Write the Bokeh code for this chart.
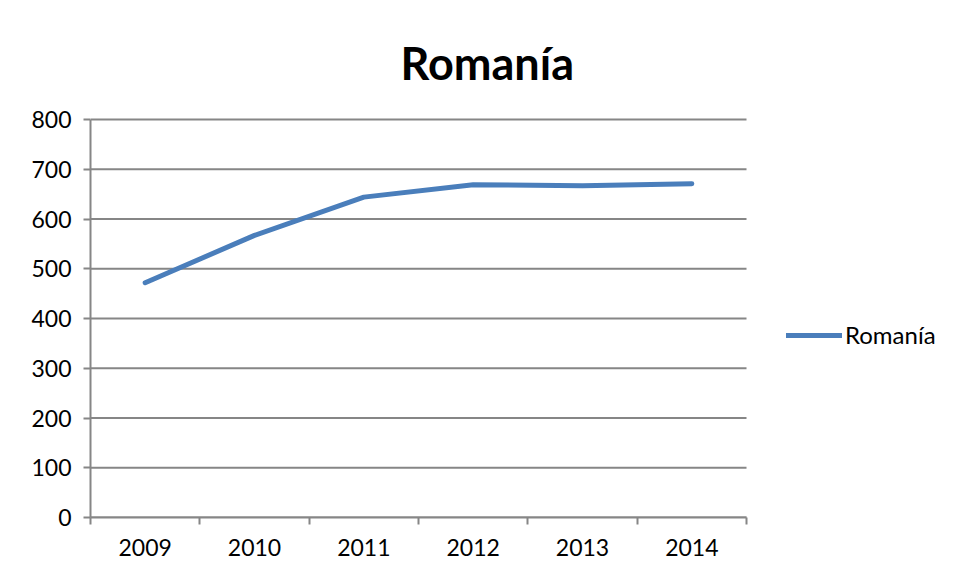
from bokeh.plotting import figure
from bokeh.models import (ColumnDataSource, FixedTicker, Range1d, Legend, LegendItem)
from bokeh.embed import file_html
from bokeh.resources import INLINE

years = ["2009", "2010", "2011", "2012", "2013", "2014"]
values = [472, 567, 644, 669, 667, 671]
series_name = "Romanía"
title_text = "Romanía"
y_ticks = [0, 100, 200, 300, 400, 500, 600, 700, 800]

n = len(years)
xpos = [i + 0.5 for i in range(n)]
src = ColumnDataSource(dict(x=xpos, y=values, year=years))
grid_src = ColumnDataSource(dict(x0=[0] * len(y_ticks), x1=[n] * len(y_ticks), y=y_ticks))

FONT = "Lato"
GRID = "#868686"

W, H = 946, 570
LEFT, TOP, BOTTOM = 90, 117, 53
AXIS_W = 656  # pixel width of the category axis
frame_w = W - LEFT
x_end = n * frame_w / AXIS_W  # extend frame to the right so the legend sits inside it
y_max = y_ticks[-1]
y_pad = 2 * y_max / 398.0  # 2px headroom so the top gridline is not clipped

p = figure(width=W, height=H, output_backend="svg", toolbar_location=None,
           x_range=Range1d(0, x_end), y_range=Range1d(0, y_max + y_pad),
           min_border_left=LEFT, min_border_right=0, min_border_top=TOP, min_border_bottom=BOTTOM)
p.outline_line_color = None

p.title.text = title_text
p.title.text_font = FONT
p.title.text_font_style = "bold"
p.title.text_font_size = "45px"
p.title.align = "left"
p.title.offset = 310
p.title.standoff = 56
p.title.text_color = "#000000"

# horizontal gridlines limited to the category axis extent
p.segment(x0="x0", x1="x1", y0="y", y1="y", source=grid_src, line_color=GRID, line_width=2)

r = p.line("x", "y", source=src, line_color="#4A7EBB", line_width=5, line_cap="round", line_join="round")

# x axis
p.xaxis.bounds = (0, n)
p.xaxis.ticker = FixedTicker(ticks=xpos, minor_ticks=list(range(n + 1)))
p.xaxis.major_label_overrides = {x: y for x, y in zip(xpos, years)}
p.xaxis.major_tick_out = 0
p.xaxis.major_tick_in = 0
p.xaxis.minor_tick_out = 7
p.xaxis.minor_tick_in = 0
p.xaxis.minor_tick_line_color = GRID
p.xaxis.minor_tick_line_width = 2
p.xaxis.axis_line_color = GRID
p.xaxis.axis_line_width = 2
p.xaxis.major_label_text_font = FONT
p.xaxis.major_label_text_font_size = "23px"
p.xaxis.major_label_text_color = "#000000"
p.xaxis.major_label_standoff = 14

# y axis
p.yaxis.bounds = (0, y_max)
p.yaxis.ticker = FixedTicker(ticks=y_ticks)
p.yaxis.major_tick_out = 7
p.yaxis.major_tick_in = 0
p.yaxis.minor_tick_line_color = None
p.yaxis.major_tick_line_color = GRID
p.yaxis.major_tick_line_width = 2
p.yaxis.axis_line_color = GRID
p.yaxis.axis_line_width = 2
p.yaxis.major_label_text_font = FONT
p.yaxis.major_label_text_font_size = "23px"
p.yaxis.major_label_text_color = "#000000"
p.yaxis.major_label_standoff = 12

p.xgrid.grid_line_color = None
p.ygrid.grid_line_color = None

legend = Legend(items=[LegendItem(label=series_name, renderers=[r])],
                location=(696, 168), padding=0, margin=0, spacing=0,
                glyph_width=56, glyph_height=24, label_standoff=3,
                label_text_font=FONT, label_text_font_size="24px",
                label_text_color="#000000",
                border_line_color=None, background_fill_alpha=0)
p.add_layout(legend, "center")

open("out.html", "w").write(file_html(p, INLINE))
